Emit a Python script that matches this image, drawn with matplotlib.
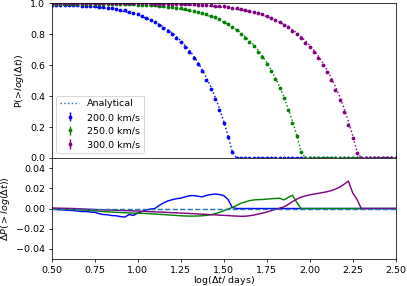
import numpy as np
import matplotlib
matplotlib.use("Agg")
import matplotlib.pyplot as plt

# log(dt / days) sampling grid
log_dt = [0.500, 0.525, 0.550, 0.575, 0.600, 0.625, 0.650, 0.675, 0.700, 0.725,
          0.750, 0.775, 0.800, 0.825, 0.850, 0.875, 0.900, 0.925, 0.950, 0.975,
          1.000, 1.025, 1.050, 1.075, 1.100, 1.125, 1.150, 1.175, 1.200, 1.225,
          1.250, 1.275, 1.300, 1.325, 1.350, 1.375, 1.400, 1.425, 1.450, 1.475,
          1.500, 1.525, 1.550, 1.575, 1.600, 1.625, 1.650, 1.675, 1.700, 1.725,
          1.750, 1.775, 1.800, 1.825, 1.850, 1.875, 1.900, 1.925, 1.950, 1.975,
          2.000, 2.025, 2.050, 2.075, 2.100, 2.125, 2.150, 2.175, 2.200, 2.225,
          2.250, 2.275, 2.300, 2.325, 2.350, 2.375, 2.400, 2.425, 2.450, 2.475,
          2.500]

labels = ["200.0 km/s", "250.0 km/s", "300.0 km/s"]
colors = ["blue", "green", "purple"]

analytic_200 = [0.992, 0.991, 0.990, 0.989, 0.988, 0.986, 0.985, 0.983, 0.981, 0.979,
                0.976, 0.973, 0.970, 0.966, 0.962, 0.957, 0.952, 0.946, 0.939, 0.932,
                0.924, 0.915, 0.904, 0.892, 0.879, 0.864, 0.848, 0.829, 0.809, 0.785,
                0.759, 0.730, 0.697, 0.660, 0.618, 0.571, 0.519, 0.461, 0.395, 0.321,
                0.238, 0.145, 0.041, 0, 0, 0, 0, 0, 0, 0,
                0, 0, 0, 0, 0, 0, 0, 0, 0, 0,
                0, 0, 0, 0, 0, 0, 0, 0, 0, 0,
                0, 0, 0, 0, 0, 0, 0, 0, 0, 0,
                0]

analytic_250 = [0.9988, 0.9986, 0.9985, 0.9983, 0.9981, 0.9979, 0.9976, 0.9973, 0.9970, 0.9966,
                0.9962, 0.9957, 0.9952, 0.9946, 0.9940, 0.9932, 0.992, 0.991, 0.990, 0.989,
                0.988, 0.986, 0.985, 0.983, 0.981, 0.979, 0.976, 0.973, 0.970, 0.966,
                0.962, 0.957, 0.952, 0.946, 0.939, 0.932, 0.924, 0.915, 0.904, 0.892,
                0.879, 0.864, 0.848, 0.829, 0.809, 0.785, 0.759, 0.730, 0.697, 0.660,
                0.618, 0.571, 0.519, 0.461, 0.395, 0.321, 0.238, 0.145, 0.041, 0,
                0, 0, 0, 0, 0, 0, 0, 0, 0, 0,
                0, 0, 0, 0, 0, 0, 0, 0, 0, 0,
                0]

analytic_300 = [0.9997, 0.9997, 0.9997, 0.9996, 0.9996, 0.9995, 0.9995, 0.9994, 0.9993, 0.9992,
                0.9991, 0.9990, 0.9989, 0.9988, 0.9986, 0.9985, 0.9983, 0.9981, 0.9979, 0.9976,
                0.9973, 0.9970, 0.9966, 0.9962, 0.9957, 0.9952, 0.9946, 0.9940, 0.9932, 0.992,
                0.991, 0.990, 0.989, 0.988, 0.986, 0.985, 0.983, 0.981, 0.979, 0.976,
                0.973, 0.970, 0.966, 0.962, 0.957, 0.952, 0.946, 0.939, 0.932, 0.924,
                0.915, 0.904, 0.892, 0.879, 0.864, 0.848, 0.829, 0.809, 0.785, 0.759,
                0.730, 0.697, 0.660, 0.618, 0.571, 0.519, 0.461, 0.395, 0.321, 0.238,
                0.145, 0.041, 0, 0, 0, 0, 0, 0, 0, 0,
                0]

# Delta P = analytical - simulated
resid_200 = [-0.0005, -0.0010, -0.0012, -0.0015, -0.0018, -0.0020, -0.0025, -0.0030, -0.0030, -0.0035,
             -0.0038, -0.0050, -0.0060, -0.0062, -0.0070, -0.0072, -0.0080, -0.0085, -0.0060, -0.0068,
             -0.0046, -0.0030, -0.0015, -0.0005, 0.0000, 0.0030, 0.0055, 0.0075, 0.0087, 0.0097,
             0.0102, 0.0115, 0.0126, 0.0128, 0.0122, 0.0115, 0.0130, 0.0138, 0.0143, 0.0138,
             0.0128, 0.0090, 0.0010, 0, 0, 0, 0, 0, 0, 0,
             0, 0, 0, 0, 0, 0, 0, 0, 0, 0,
             0, 0, 0, 0, 0, 0, 0, 0, 0, 0,
             0, 0, 0, 0, 0, 0, 0, 0, 0, 0,
             0]

resid_250 = [0.0000, -0.0002, -0.0004, -0.0006, -0.0008, -0.0010, -0.0012, -0.0015, -0.0018, -0.0020,
             -0.0023, -0.0026, -0.0030, -0.0033, -0.0036, -0.0038, -0.0040, -0.0042, -0.0044, -0.0045,
             -0.0046, -0.0048, -0.0050, -0.0052, -0.0055, -0.0058, -0.0060, -0.0063, -0.0066, -0.0069,
             -0.0072, -0.0074, -0.0075, -0.0075, -0.0074, -0.0072, -0.0068, -0.0062, -0.0052, -0.0038,
             -0.0022, -0.0005, 0.0010, 0.0030, 0.0052, 0.0065, 0.0078, 0.0085, 0.0088, 0.0089,
             0.0093, 0.0097, 0.0099, 0.0102, 0.0085, 0.0110, 0.0132, 0.0060, 0.0000, 0,
             0, 0, 0, 0, 0, 0, 0, 0, 0, 0,
             0, 0, 0, 0, 0, 0, 0, 0, 0, 0,
             0]

resid_300 = [0.0005, 0.0004, 0.0003, 0.0002, 0.0001, 0.0000, -0.0002, -0.0004, -0.0006, -0.0008,
             -0.0010, -0.0012, -0.0013, -0.0015, -0.0016, -0.0018, -0.0019, -0.0021, -0.0022, -0.0024,
             -0.0025, -0.0027, -0.0029, -0.0031, -0.0033, -0.0035, -0.0037, -0.0039, -0.0041, -0.0043,
             -0.0045, -0.0047, -0.0049, -0.0051, -0.0054, -0.0056, -0.0058, -0.0061, -0.0063, -0.0066,
             -0.0068, -0.0070, -0.0073, -0.0075, -0.0077, -0.0076, -0.0072, -0.0065, -0.0056, -0.0046,
             -0.0035, -0.0022, -0.0010, 0.0003, 0.0016, 0.0040, 0.0068, 0.0092, 0.0112, 0.0125,
             0.0135, 0.0143, 0.0150, 0.0158, 0.0166, 0.0177, 0.0192, 0.0213, 0.0240, 0.0272,
             0.0155, 0.0090, 0.0000, 0, 0, 0, 0, 0, 0, 0,
             0]

point_err = 0.006

x_ticks = [0.50, 0.75, 1.00, 1.25, 1.50, 1.75, 2.00, 2.25, 2.50]

DPI = 68
fig = plt.figure(figsize=(407 / DPI, 286 / DPI), dpi=DPI)
ax1 = fig.add_axes([0.127, 0.4476, 0.8452, 0.5406])
ax2 = fig.add_axes([0.127, 0.0944, 0.8452, 0.3531], sharex=ax1)

x = np.array(log_dt)
analytics = [analytic_200, analytic_250, analytic_300]
resids = [resid_200, resid_250, resid_300]

ax1.plot([], [], ':', color='C0', label='Analytical')
for a, r, c, lab in zip(analytics, resids, colors, labels):
    a = np.array(a)
    r = np.array(r)
    sim = a - r
    ax1.errorbar(x, sim, yerr=point_err, fmt='.', color=c, label=lab)
    ax1.plot(x, a, ':', color=c)
    ax2.plot(x, r, '-', color=c)

ax2.axhline(0, ls='--', color='C0')

ax1.set_ylim(0, 1)
ax1.set_xlim(0.5, 2.5)
ax1.tick_params(axis='x', bottom=False, labelbottom=False)
ax1.set_ylabel(r'P(>$log(\Delta t)$)')
ax1.legend(loc='lower left')

ax2.set_ylim(-0.05, 0.05)
ax2.set_yticks([-0.04, -0.02, 0.00, 0.02, 0.04])
ax2.set_xticks(x_ticks)
ax2.set_xlim(0.5, 2.5)
ax2.set_ylabel(r'$\Delta P( > log(\Delta t))$')
ax2.set_xlabel(r'log($\Delta t$/ days)', labelpad=-1)

fig.align_ylabels([ax1, ax2])
fig.savefig("out.png", dpi=DPI)
